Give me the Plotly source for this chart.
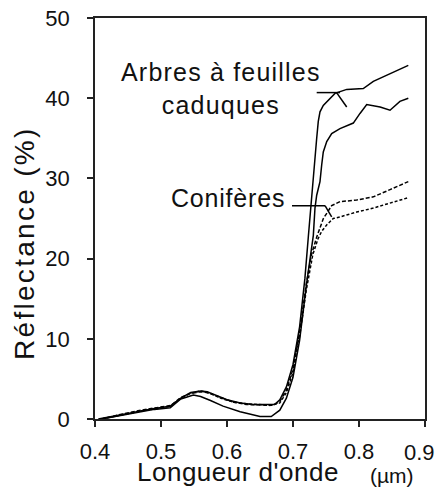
import plotly.graph_objects as go

# Spectral reflectance curves (wavelength in µm, reflectance in %)
wl_decid_1 = [0.405, 0.43, 0.46, 0.49, 0.514, 0.53, 0.545, 0.56, 0.57, 0.585, 0.60, 0.62,
              0.64, 0.672, 0.68, 0.69, 0.70, 0.71, 0.718, 0.7232, 0.7258, 0.7283, 0.7308,
              0.7333, 0.7359, 0.7383, 0.7409, 0.7459, 0.7636, 0.7814, 0.8065, 0.8217,
              0.847, 0.8747]
refl_decid_1 = [0.0, 0.4, 0.9, 1.3, 1.6, 2.6, 3.3, 3.5, 3.4, 2.9, 2.4, 2.0,
                1.8, 1.8, 2.4, 4.0, 6.8, 11.5, 17.5, 22.7, 25.4, 27.5, 30.8,
                32.9, 35.0, 37.1, 38.3, 39.1, 40.6, 41.1, 41.2, 42.1,
                43.1, 44.1]

wl_decid_2 = [0.41, 0.43, 0.46, 0.49, 0.514, 0.53, 0.549, 0.56, 0.575, 0.594, 0.62, 0.65,
              0.667, 0.68, 0.69, 0.70, 0.71, 0.72, 0.7308, 0.7333, 0.7359, 0.7409, 0.7435,
              0.7459, 0.7511, 0.7586, 0.7712, 0.7914, 0.8015, 0.8117, 0.832, 0.847,
              0.862, 0.8747]
refl_decid_2 = [0.0, 0.3, 0.8, 1.2, 1.4, 2.5, 3.0, 2.8, 2.3, 1.6, 0.9, 0.3,
                0.3, 1.1, 2.6, 5.2, 9.8, 16.5, 22.9, 26.3, 27.9, 29.6, 31.7,
                33.3, 34.6, 35.6, 36.2, 36.9, 38.1, 39.2, 38.9, 38.5,
                39.6, 40.0]

wl_conif_1 = [0.41, 0.44, 0.47, 0.50, 0.515, 0.53, 0.545, 0.56, 0.57, 0.59, 0.61, 0.63,
              0.67, 0.68, 0.69, 0.70, 0.71, 0.72, 0.728, 0.736, 0.741, 0.746, 0.7586,
              0.7712, 0.7965, 0.8217, 0.847, 0.8747]
refl_conif_1 = [0.0, 0.6, 1.1, 1.5, 1.7, 2.7, 3.2, 3.4, 3.3, 2.7, 2.1, 1.8,
                1.7, 2.2, 3.6, 6.2, 10.8, 16.8, 20.5, 22.7, 23.8, 25.0, 26.6,
                27.1, 27.3, 27.7, 28.6, 29.6]

wl_conif_2 = [0.41, 0.44, 0.47, 0.50, 0.515, 0.53, 0.545, 0.56, 0.575, 0.59, 0.61, 0.63,
              0.665, 0.68, 0.69, 0.70, 0.71, 0.72, 0.73, 0.738, 0.7435, 0.751, 0.761,
              0.7712, 0.7965, 0.8217, 0.847, 0.8747]
refl_conif_2 = [0.0, 0.5, 1.0, 1.4, 1.6, 2.6, 3.2, 3.5, 3.2, 2.6, 2.1, 1.9,
                1.7, 2.0, 3.3, 5.8, 10.3, 16.0, 20.5, 22.5, 23.4, 24.2, 25.0,
                25.2, 25.8, 26.3, 26.9, 27.6]

x_ticks = [0.4, 0.5, 0.6, 0.7, 0.8, 0.9]
y_ticks = [0, 10, 20, 30, 40, 50]

label_decid = ["Arbres à feuilles", "caduques"]
label_conif = "Conifères"
x_title = "Longueur d'onde"
x_unit = "(µm)"
y_title = "Réflectance (%)"

FONT = "Liberation Sans, Arial, sans-serif"
INK = "#111111"
TICK_SIZE = 22


def spaced(text, px):
    """Wrap text in a span with extra letter spacing."""
    return f'<span style="letter-spacing:{px}px">{text}</span>'


fig = go.Figure()
series = [
    (wl_decid_1, refl_decid_1, "solid"),
    (wl_decid_2, refl_decid_2, "solid"),
    (wl_conif_1, refl_conif_1, "4px,2px"),
    (wl_conif_2, refl_conif_2, "3px,2px"),
]
for xs, ys, dash in series:
    fig.add_trace(go.Scatter(
        x=xs, y=ys, mode="lines", line=dict(color="black", width=1.5, dash=dash),
        showlegend=False, hoverinfo="skip"))

# leader lines from the labels to the curves
leaders = [
    (0.7359, 40.7, 0.7712, 40.7),
    (0.766, 40.7, 0.7814, 38.9),
    (0.6985, 26.6, 0.7485, 26.6),
    (0.7485, 26.6, 0.7586, 25.2),
]
for x0, y0, x1, y1 in leaders:
    fig.add_shape(type="line", x0=x0, y0=y0, x1=x1, y1=y1, xref="x", yref="y",
                  line=dict(color="black", width=1.5))

fig.add_annotation(x=0.5905, y=41.2, xref="x", yref="y",
                   text="<br>".join(spaced(t, 1.2) for t in label_decid),
                   showarrow=False, align="center", xanchor="center", yanchor="middle",
                   font=dict(family=FONT, size=25, color=INK))
fig.add_annotation(x=0.601, y=27.5, xref="x", yref="y", text=spaced(label_conif, 0.8),
                   showarrow=False, xanchor="center", yanchor="middle",
                   font=dict(family=FONT, size=25, color=INK))

# the last x tick label sits flush with the right edge of the figure
x_ticktext = [f"{v:g}" for v in x_ticks]
fig.add_annotation(x=x_ticks[-1], xref="x", y=-33 / 401, yref="paper",
                   text=x_ticktext[-1], showarrow=False, xanchor="right",
                   yanchor="middle", xshift=11, borderpad=0,
                   font=dict(family=FONT, size=TICK_SIZE, color=INK))
x_ticktext[-1] = ""

# axis titles
fig.add_annotation(x=(237.5 - 95) / 330, y=-53 / 401, xref="paper", yref="paper",
                   text=spaced(x_title, 0.5), showarrow=False, borderpad=0,
                   xanchor="center", yanchor="middle",
                   font=dict(family=FONT, size=26, color=INK))
fig.add_annotation(x=(392 - 95) / 330, y=-57 / 401, xref="paper", yref="paper",
                   text=x_unit, showarrow=False, xanchor="center", yanchor="middle",
                   borderpad=0, font=dict(family=FONT, size=21, color=INK))
fig.add_annotation(x=(24 - 95) / 330, y=(419 - 243) / 401, xref="paper", yref="paper",
                   text=spaced(y_title, 2.3), showarrow=False, textangle=-90,
                   xanchor="center", yanchor="middle",
                   font=dict(family=FONT, size=28, color=INK))

axis_common = dict(showline=True, mirror=True, linecolor="#222222", linewidth=1.5,
                   ticks="outside", ticklen=6, tickwidth=1.5, tickcolor="#222222",
                   showgrid=False, zeroline=False, automargin=False,
                   tickfont=dict(family=FONT, size=TICK_SIZE, color=INK))

fig.update_xaxes(range=[0.4, 0.9], tickvals=x_ticks, ticktext=x_ticktext,
                 ticklabelstandoff=6, **axis_common)
fig.update_yaxes(range=[0, 50], tickvals=y_ticks, ticktext=[str(v) for v in y_ticks],
                 ticklabelstandoff=13, **axis_common)

fig.update_layout(width=437, height=487, margin=dict(l=95, r=12, t=18, b=68),
                  plot_bgcolor="white", paper_bgcolor="white")

fig.write_html("out.html")
